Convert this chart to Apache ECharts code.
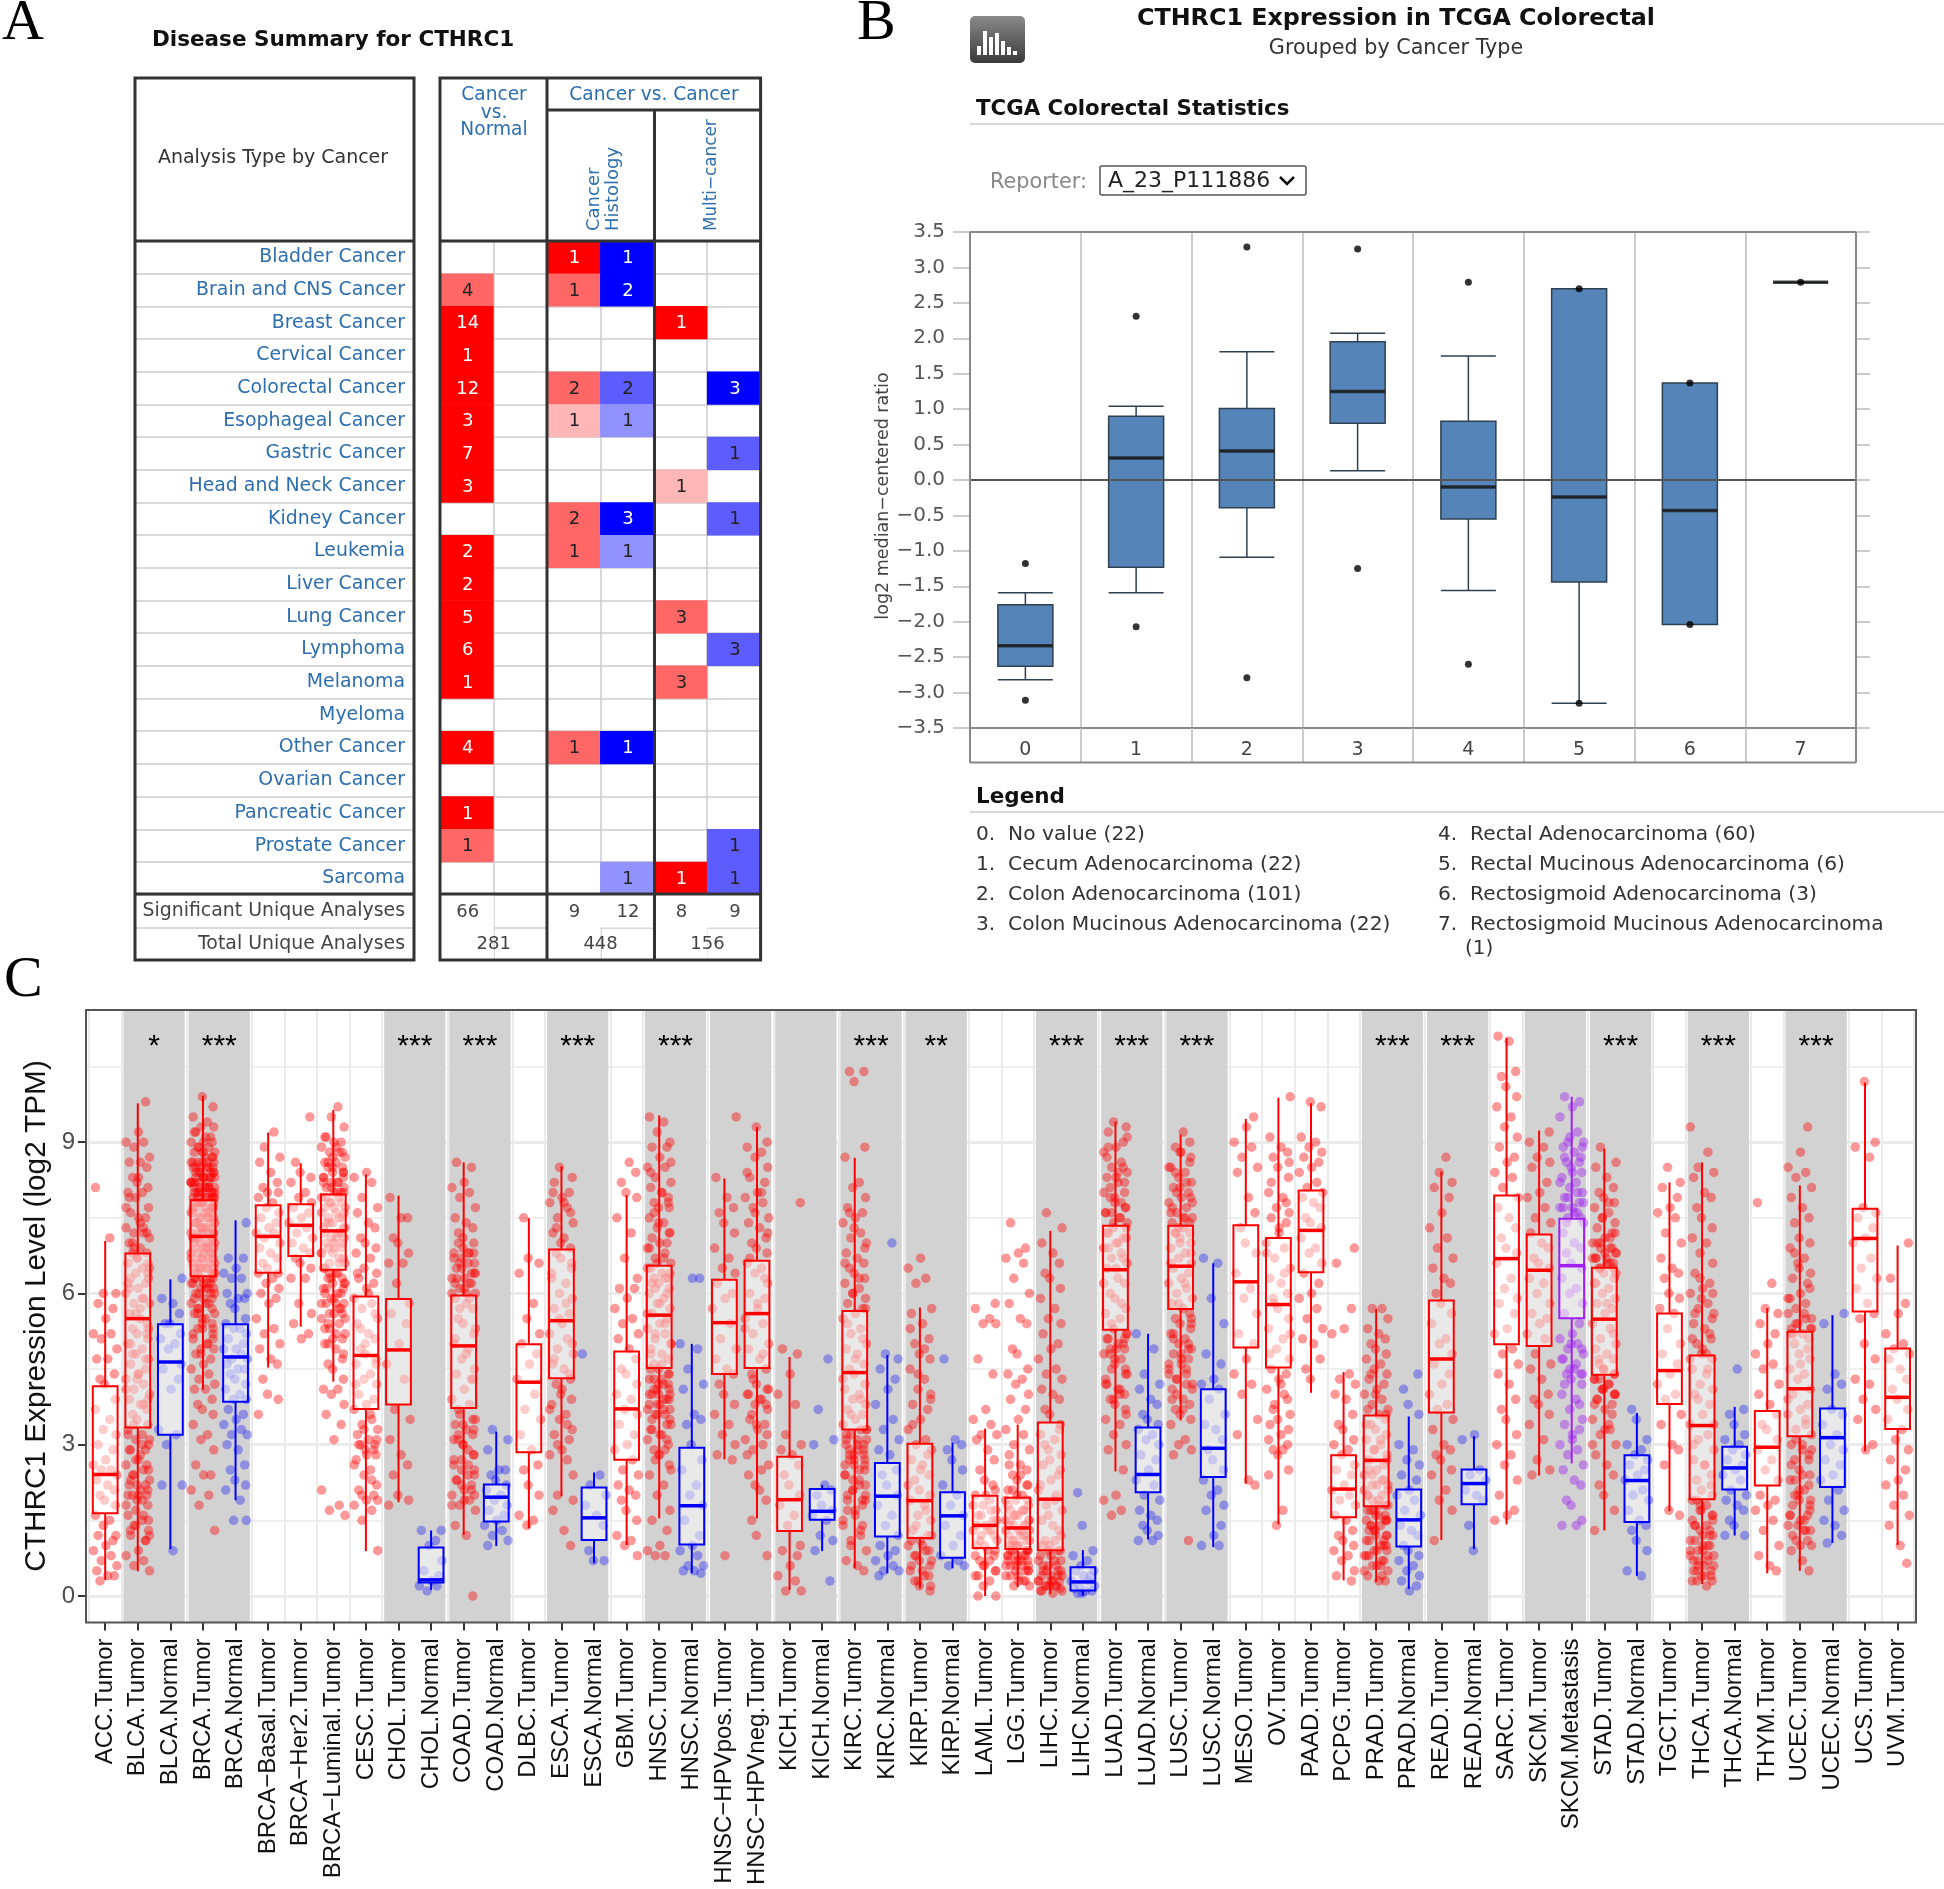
<!DOCTYPE html>
<html><head><meta charset="utf-8">
<style>html,body{margin:0;padding:0;background:#fff}#c{width:1944px;height:1889px}</style>
<script src="https://cdn.jsdelivr.net/npm/echarts@6/dist/echarts.min.js"></script>
</head><body><div id="c"></div>
<script>
// ---------- Panel A ----------
const cancerRows=['Bladder Cancer','Brain and CNS Cancer','Breast Cancer','Cervical Cancer','Colorectal Cancer','Esophageal Cancer','Gastric Cancer','Head and Neck Cancer','Kidney Cancer','Leukemia','Liver Cancer','Lung Cancer','Lymphoma','Melanoma','Myeloma','Other Cancer','Ovarian Cancer','Pancreatic Cancer','Prostate Cancer','Sarcoma','Significant Unique Analyses','Total Unique Analyses'];
const tableCols=['c0','c1','c2','c3','c4','c5'];
// [col,row,count,shade] shade: 0 white,1 red,2 mid red,3 pale red,4 blue,5 mid blue,6 pale blue
const heatCells=[[2,0,1,1],[3,0,1,4],[0,1,4,2],[2,1,1,2],[3,1,2,4],[0,2,14,1],[4,2,1,1],[0,3,1,1],[0,4,12,1],[2,4,2,2],[3,4,2,5],[5,4,3,4],[0,5,3,1],[2,5,1,3],[3,5,1,6],[0,6,7,1],[5,6,1,5],[0,7,3,1],[4,7,1,3],[2,8,2,2],[3,8,3,4],[5,8,1,5],[0,9,2,1],[2,9,1,2],[3,9,1,6],[0,10,2,1],[0,11,5,1],[4,11,3,2],[0,12,6,1],[5,12,3,5],[0,13,1,1],[4,13,3,2],[0,15,4,1],[2,15,1,2],[3,15,1,4],[0,17,1,1],[0,18,1,2],[5,18,1,5],[3,19,1,6],[4,19,1,1],[5,19,1,5]];
const significantRow=[66,'',9,12,8,9];
const totalRow=[281,'',448,'',156,''];
const shadeColors=['#ffffff','#ff0000','#ff6666','#ffb6b6','#0000ff','#5c5cff','#9292ff'];
// ---------- Panel B ----------
const tcgaCats=['0','1','2','3','4','5','6','7'];
const tcgaBoxes=[[-2.82,-2.63,-2.34,-1.76,-1.59],[-1.59,-1.23,.31,.9,1.04],[-1.09,-.39,.41,1.01,1.81],[.13,.8,1.25,1.95,2.07],[-1.56,-.55,-.1,.83,1.75],[-3.15,-1.44,-.24,2.7,2.7],[-2.04,-2.04,-.43,1.37,1.37],[2.79,2.79,2.79,2.79,2.79]];
const tcgaDots=[[0,-1.18],[0,-3.11],[1,2.31],[1,-2.07],[2,3.29],[2,-2.79],[3,3.26],[3,-1.25],[4,2.79],[4,-2.6],[5,2.7],[5,-3.15],[6,1.37],[6,-2.04],[7,2.79]];
const legendLeft=['0.  No value (22)','1.  Cecum Adenocarcinoma (22)','2.  Colon Adenocarcinoma (101)','3.  Colon Mucinous Adenocarcinoma (22)'];
const legendRight=['4.  Rectal Adenocarcinoma (60)','5.  Rectal Mucinous Adenocarcinoma (6)','6.  Rectosigmoid Adenocarcinoma (3)','7.  Rectosigmoid Mucinous Adenocarcinoma'];
// ---------- Panel C ----------
const timerCats=['ACC.Tumor','BLCA.Tumor','BLCA.Normal','BRCA.Tumor','BRCA.Normal','BRCA−Basal.Tumor','BRCA−Her2.Tumor','BRCA−Luminal.Tumor','CESC.Tumor','CHOL.Tumor','CHOL.Normal','COAD.Tumor','COAD.Normal','DLBC.Tumor','ESCA.Tumor','ESCA.Normal','GBM.Tumor','HNSC.Tumor','HNSC.Normal','HNSC−HPVpos.Tumor','HNSC−HPVneg.Tumor','KICH.Tumor','KICH.Normal','KIRC.Tumor','KIRC.Normal','KIRP.Tumor','KIRP.Normal','LAML.Tumor','LGG.Tumor','LIHC.Tumor','LIHC.Normal','LUAD.Tumor','LUAD.Normal','LUSC.Tumor','LUSC.Normal','MESO.Tumor','OV.Tumor','PAAD.Tumor','PCPG.Tumor','PRAD.Tumor','PRAD.Normal','READ.Tumor','READ.Normal','SARC.Tumor','SKCM.Tumor','SKCM.Metastasis','STAD.Tumor','STAD.Normal','TGCT.Tumor','THCA.Tumor','THCA.Normal','THYM.Tumor','UCEC.Tumor','UCEC.Normal','UCS.Tumor','UVM.Tumor'];
const whiskerHigh=[7.04,9.77,6.28,9.92,7.45,9.19,8.58,9.64,8.36,7.94,1.3,8.6,3.26,7.49,8.52,2.45,7.95,9.53,5.0,8.28,9.3,4.74,2.2,8.69,4.78,5.72,3.04,3.32,3.4,7.24,.91,9.41,5.2,9.15,6.6,9.46,9.88,9.77,4.44,5.69,3.56,8.42,3.17,11.07,9.23,9.9,8.87,3.63,8.2,8.6,3.75,5.71,8.14,5.57,10.18,6.95];
const quart3=[4.16,6.79,5.39,7.85,5.39,7.75,7.77,7.96,5.94,5.89,.96,5.96,2.21,4.99,6.87,2.15,4.85,6.55,2.94,6.27,6.65,2.76,2.12,5.65,2.64,3.02,2.06,1.99,1.95,3.44,.57,7.34,3.34,7.34,4.1,7.35,7.1,8.04,2.79,3.58,2.11,5.86,2.51,7.94,7.17,7.48,6.51,2.79,5.6,4.77,2.96,3.67,5.24,3.72,7.68,4.91];
const medians=[2.41,5.5,4.64,7.13,4.74,7.13,7.35,7.24,4.77,4.88,.32,4.96,1.96,4.24,5.46,1.55,3.71,5.57,1.79,5.42,5.6,1.91,1.68,4.43,1.98,1.89,1.59,1.4,1.35,1.92,.28,6.47,2.41,6.54,2.93,6.23,5.78,7.25,2.12,2.69,1.51,4.7,2.23,6.69,6.46,6.55,5.49,2.29,4.47,3.38,2.54,2.95,4.11,3.14,7.09,3.94];
const quart1=[1.64,3.34,3.2,6.34,3.85,6.41,6.74,6.47,3.71,3.8,.27,3.73,1.48,2.85,4.32,1.11,2.7,4.52,1.02,4.4,4.52,1.29,1.51,3.3,1.18,1.15,.76,.95,.93,.91,.11,5.28,2.06,5.69,2.36,4.93,4.53,6.42,1.56,1.78,.98,3.64,1.82,4.99,4.96,5.51,4.39,1.47,3.81,1.92,2.11,2.19,3.17,2.16,5.64,3.31];
const whiskerLow=[.32,.49,.93,4.09,1.9,4.53,5.34,4.25,.89,1.86,.12,1.21,.99,1.34,1.98,.65,1.01,1.54,.45,2.71,1.54,.12,.89,.55,.45,.15,.55,0,.18,.04,0,2.47,1.12,3.48,.97,2.23,1.42,4.03,.31,.28,.14,1.11,.93,1.42,2.39,2.63,1.3,.4,1.68,.24,1.2,.45,.5,1.05,2.87,1.01];
const sigBands=[[1,'*'],[3,'***'],[9,'***'],[11,'***'],[14,'***'],[17,'***'],[19,''],[21,''],[23,'***'],[25,'**'],[29,'***'],[31,'***'],[33,'***'],[39,'***'],[41,'***'],[44,''],[46,'***'],[49,'***'],[52,'***']];
const jitterOffsets=[-.30,.14,-.06,.33,-.22,.24,.02,-.36,.18,-.12,.36,-.26,.08,.28,-.16,-.02,.31];
const ptsACC=[8.1,7.1,6,6,5.8,5.7,5.5,5.2,5.2,5.1,4.9,4.7,4.7,4.4,4.3,4.2,3.9,3.7,3.5,3.3,3.2,3,2.9,2.7,2.6,2.5,2.5,2.4,2.3,2.2,2.1,2,1.9,1.8,1.6,1.5,1.4,1.2,1.2,1.1,1,.9,.8,.7,.6,.5,.4,.4,.3];
const ptsBLCAT=[9.8,9.2,9,9,8.9,8.7,8.6,8.6,8.5,8.3,8.2,8.1,8,8,7.9,7.7,7.6,7.5,7.5,7.3,7.2,7.2,7.1,7,6.9,6.8,6.8,6.7,6.6,6.6,6.5,6.4,6.3,6.3,6.2,6.1,6,5.9,5.8,5.8,5.6,5.5,5.4,5.3,5.2,5.1,5,4.9,4.8,4.7,4.6,4.5,4.4,4.3,4.2,4.1,4,3.9,3.8,3.7,3.6,3.5,3.4,3.3,3.2,3.1,3,2.9,2.9,2.7,2.6,2.5,2.4,2.3,2.2,2.1,2,2,1.9,1.8,1.6,1.5,1.4,1.3,1.2,1.1,.9,.8,.7,.6,.5];
const moreBLCAT=[7.9,7.4,7.2,7,6.7,6.4,6.2,5.9,5.6,5.3,5,4.7,4.4,4.1,3.8,3.4,3.1,2.9,2.8,2.6,2.4,2.2,2.1,2,1.9,1.7,1.5,1.3,1.1,8.3,7.7,7.3,6.9,6.5,6.1,5.7,5.2,4.8,4.3,3.9,3.2,3,2.7,2.5,2.3,2.2,2,1.8,1.6,1.4,1.2];
const ptsBLCAN=[6.3,5.9,5.8,5.6,5.4,5.4,5.2,5.1,5,4.9,4.6,4.5,4.3,4.1,3.3,3.2,3,2.2,2.2,.9];
const ptsBRCAT=[9.9,9.7,9.5,9.4,9.3,9.3,9.2,9.1,9,9,8.9,8.9,8.8,8.8,8.7,8.7,8.6,8.6,8.5,8.5,8.5,8.4,8.4,8.3,8.3,8.3,8.2,8.2,8.2,8.1,8.1,8.1,8,8,8,7.9,7.9,7.9,7.8,7.8,7.7,7.7,7.6,7.6,7.5,7.5,7.4,7.4,7.3,7.3,7.2,7.2,7.1,7.1,7,7,6.9,6.9,6.8,6.8,6.7,6.7,6.6,6.6,6.5,6.5,6.4,6.4,6.3,6.3,6.2,6.2,6.1,6.1,6,6,5.9,5.8,5.8,5.7,5.6,5.6,5.5,5.4,5.3,5.3,5.2,5.1,5,4.9,4.9,4.8,4.7,4.6,4.5,4.4,4.3,4.2,4.1,4.1,3.9,3.8,3.7,3.6,3.4,3.2,3.1,2.9,2.6,2.4,2.4,2.1,2,1.8,1.3];
const moreBRCAT=[9.2,9.1,9,8.9,8.8,8.7,8.6,8.6,8.5,8.4,8.4,8.3,8.3,8.2,8.1,8.1,8,8,7.9,7.9,7.8,7.8,7.7,7.7,7.6,7.5,7.5,7.4,7.4,7.3,7.2,7.2,7.1,7,7,6.9,6.8,6.8,6.7,6.7,6.6,6.5,6.5,6.4,6.4,6.3,6.2,6.2,6.1,6,6,5.9,5.8,5.7,5.6,5.5,5.3,5.2,5,4.8,8.6,8.5,8.4,8.3,8.2,8.1,8,7.9,7.8,7.7,7.6,7.4,7.3,7.2,7.1,6.9,6.7,6.5,6.3,6.2,8.8,8.6,8.5,8.4,8.3,8.2,8.1,8,7.9,7.8,7.7,7.6,7.5,7.3,7.2,7.1,7,6.9,6.8,6.6,6.5,6.4,6.3,6.1,5.9,5.7,5.4,5.1];
const ptsBRCAN=[7.4,6.7,6.7,6.5,6.4,6.3,6.3,6,6,5.9,5.9,5.8,5.7,5.5,5.4,5.3,5.3,5.2,5.1,5,4.9,4.9,4.8,4.7,4.7,4.6,4.5,4.5,4.4,4.3,4.2,4.1,4,3.9,3.9,3.7,3.6,3.5,3.4,3.3,3.2,3.2,3,2.9,2.6,2.5,2.3,2.2,2.1,1.9,1.5,1.5];
const ptsBasal=[9.2,8.9,8.7,8.6,8.4,8.2,8.1,8,8,7.9,7.8,7.7,7.6,7.5,7.4,7.3,7.2,7.2,7.1,7,6.9,6.8,6.7,6.6,6.5,6.4,6.4,6.3,6.2,6.1,6,5.9,5.8,5.5,5.3,5.2,5,4.9,4.7,4.6,4.3,4,3.9,3.6];
const ptsHer2=[9.5,8.6,8.4,8.3,8.2,8,7.9,7.8,7.7,7.6,7.5,7.4,7.3,7.2,7.1,7,6.9,6.8,6.7,6.6,6.5,6.3,6.3,5.8,5.6,5.4,5.2,5.1];
const ptsLuminal=[9.7,9.5,9.3,9.1,9,9,8.9,8.8,8.8,8.7,8.6,8.6,8.5,8.5,8.4,8.3,8.3,8.2,8.2,8.1,8.1,8,8,7.9,7.9,7.8,7.7,7.7,7.6,7.5,7.5,7.4,7.3,7.3,7.2,7.1,7.1,7,6.9,6.9,6.8,6.7,6.6,6.6,6.5,6.4,6.3,6.3,6.2,6.1,6.1,6,5.9,5.8,5.8,5.7,5.6,5.5,5.4,5.3,5.2,5,4.9,4.7,4.6,4.5,4.3,4.1,4.1,4,3.8,3.6,3.4,3.1,2.1,1.8,1.7,1.6];
const moreLuminal=[9.1,8.9,8.8,8.6,8.5,8.4,8.3,8.2,8.1,8,7.9,7.8,7.7,7.6,7.5,7.4,7.3,7.2,7.1,7,6.9,6.8,6.7,6.5,6.4,6.3,6.2,6.1,6,5.9,5.8,5.7,5.6,5.5,5.3,5.2,5.1,5,8.7,8.4,8.2,8,7.8,7.6,7.4,7.2,7,6.8,6.6,6.4,6.2,6,5.8,5.6,5.4,5.1,4.8];
const ptsCESC=[8.4,8.3,8.2,7.9,7.7,7.6,7.4,7.3,7.1,7,6.9,6.8,6.7,6.5,6.4,6.3,6.2,6.1,5.9,5.8,5.7,5.5,5.4,5.2,5.1,4.9,4.8,4.7,4.6,4.4,4.3,4.2,4,3.9,3.8,3.7,3.5,3.4,3.3,3.2,3.1,3,3,2.9,2.8,2.7,2.5,2.4,2.2,2.1,2,1.9,1.8,1.7,1.5,.9];
const moreCESC=[6.4,6,5.6,5.3,5,4.6,4.2,3.6,3.3,3.1,3,2.9,2.8,2.6,2.3,2,1.9];
const ptsCHOLT=[7.9,7.5,7.5,7.1,7,6.8,6.6,6.6,6.2,5.8,5.6,5.4,5,4.6,4.3,3.7,3.5,3.1,2.8,2.6,2.4,2,1.9,1.8];
const ptsCHOLN=[1.3,1.3,1.1,1,.7,.5,.4,.3,.2,.2,.1];
const ptsCOADT=[8.6,8.5,8.2,8.1,8,7.9,7.7,7.5,7.4,7.3,7.2,7.1,7,6.8,6.8,6.7,6.6,6.5,6.4,6.3,6.3,6.2,6.1,6,5.9,5.8,5.7,5.5,5.4,5.2,5,4.9,4.7,4.5,4.4,4.3,4.1,3.9,3.8,3.6,3.5,3.4,3.3,3.2,3.1,3,2.8,2.7,2.6,2.5,2.4,2.3,2.2,2.1,2,1.9,1.8,1.7,1.4,1.2,0];
const moreCOADT=[7,6.9,6.8,6.7,6.6,6.5,6.4,6.3,6.2,6.1,6,5.9,5.7,5.3,5.1,4.8,4.3,3.7,3.4,3.3,3.1,2.9,2.7,2.5,2.3,2.1,1.9,1.8,6.8,6.6,6.4,6.2,6,3.5,3.2,3,2.8,2.6,2.4,2.2,2];
const ptsCOADN=[3.3,3.1,2.9,2.5,2.5,2.4,2.3,2.2,2.1,2,1.9,1.8,1.7,1.6,1.5,1.4,1.3,1.2,1.1,1];
const ptsDLBC=[7.5,6.7,6.6,6.4,5.8,5.5,5.2,5,4.8,4.6,4.3,4,3.7,3.5,3.2,2.9,2.6,2.5,2.2,2,1.6,1.5,1.4];
const ptsESCAT=[8.5,8.3,8.2,8,7.9,7.8,7.7,7.5,7.4,7.2,7.1,6.9,6.8,6.7,6.5,6.4,6.2,6,5.9,5.7,5.6,5.4,5.2,5.1,4.9,4.8,4.6,4.5,4.3,4.2,4,3.9,3.8,3.6,3.5,3.3,3.2,3.1,2.9,2.8,2.7,2,1.9];
const moreESCAT=[8,7.8,7.6,7.3,7,6.6,6.3,5.8,5.5,5,4.7,4.4,4.1,3.7,3.4,3,2.4,1.7,1.3,1];
const ptsESCAN=[4.8,2.4,2.2,2,1.8,1.6,1.4,.9,.7,.7];
const ptsGBM=[8.6,8.4,8.2,8,7.9,7.5,7.2,6.7,6.3,6.1,6.1,5.9,5.7,5.5,5.4,5.2,5.1,4.9,4.7,4.5,4.4,4.2,4,3.9,3.7,3.6,3.4,3.2,3,2.9,2.7,2.5,2.4,2.2,2.1,2,1.9,1.7,1.5,1.2,1.1,1,.8];
const ptsHNSCT=[9.5,9.4,9.2,9,8.9,8.9,8.7,8.5,8.5,8.3,8.2,8.1,8,7.9,7.8,7.7,7.7,7.5,7.4,7.3,7.2,7.1,7,7,6.9,6.8,6.7,6.6,6.5,6.4,6.3,6.3,6.2,6.1,6,5.9,5.8,5.7,5.6,5.5,5.4,5.3,5.2,5.1,5,4.9,4.8,4.7,4.6,4.5,4.4,4.3,4.2,4.1,4,4,3.9,3.8,3.7,3.6,3.6,3.4,3.3,3.2,3,2.9,2.8,2.6,2.4,2.2,2,1.7,1.5,1.3,1,.9,.8,.8];
const moreHNSCT=[8.6,8.4,8,7.8,7.6,7.4,7.2,6.9,6.7,6.6,6.4,6.2,6,5.8,5.6,5.4,5.2,5,4.8,4.6,4.4,4.3,4.2,4.1,4,3.9,3.8,3.7,3.5,3.4,3.2,3.1,2.9,2.7,2.5,4.5,4.3,4.2,4.1,4,3.9,3.8,3.7,3.6,3.5,3.3,3.1,2.8,6.5,6.3,6.1];
const ptsHNSCN=[6.3,6.3,5,4.9,4.5,4.2,4.1,3.6,3.5,3.4,3,2.7,2.5,2.2,2,1.8,1.5,1.2,1,.9,.8,.6,.6,.5,.5,.45];
const ptsHPVpos=[9.5,8.3,7.9,7.7,7.6,7.4,7.2,6.9,6.7,6.5,6.4,6.2,6,5.9,5.7,5.4,5.1,4.9,4.7,4.5,4.4,4.2,4,3.8,3.6,3.4,3.2,3,2.8,2.7,.8];
const ptsHPVneg=[9.3,9,8.9,8.8,8.7,8.5,8.3,8.2,8,7.9,7.8,7.7,7.5,7.4,7.3,7.1,7,6.9,6.8,6.6,6.5,6.4,6.2,6,5.9,5.7,5.5,5.4,5.2,5,4.9,4.7,4.5,4.4,4.2,4.1,4,3.9,3.8,3.7,3.5,3.4,3.3,3.1,3,2.9,2.6,2.4,2.1,1.9,1.5,1.2,.8];
const moreHPVneg=[8.4,8,7.6,7.2,6.7,6.3,5.8,5.3,4.8,4.3,4.1,4,3.9,3.8,3.6,3.4,3.2,2.8,2.5,2.2];
const ptsKICHT=[7.8,4.9,4.8,4.4,4,3.8,3.2,3,2.9,2.8,2.6,2.4,2.2,2,1.8,1.6,1.4,1,.9,.8,.6,.4,.3,.1,.1];
const ptsKICHN=[4.7,3.7,3.1,3,2.2,2.1,2,1.8,1.7,1.6,1.5,1.2,1.1,.9,.3];
const ptsKIRCT=[10.4,10.4,10.2,8.9,8.7,8.2,8.1,7.9,7.7,7.6,7.5,7.4,7.2,7.1,7,6.8,6.7,6.6,6.5,6.4,6.3,6.2,6.1,6,5.9,5.8,5.7,5.6,5.5,5.3,5.2,5,4.9,4.8,4.6,4.5,4.4,4.2,4.1,4,3.9,3.8,3.7,3.6,3.5,3.4,3.3,3.2,3.1,3,2.9,2.8,2.7,2.6,2.5,2.4,2.2,2.1,2,1.9,1.8,1.6,1.4,1.3,1.1,.9,.7,.6,.5];
const moreKIRCT=[7.6,7.3,6.9,6.6,6.3,6,5.7,5.4,5.1,4.7,4.3,3.9,3.6,3.3,3.2,3.1,3,2.9,2.8,2.7,2.6,2.5,2.3,2.2,2,1.9,1.7,1.5,1.2,1,3.3,3.1,3,2.9,2.8,2.7,2.6,2.4,2.3,2.1,1.9,1.7,1.4];
const ptsKIRCN=[7,4.8,4.7,4.5,4.3,4.1,3.8,3.5,3.3,3.1,2.9,2.8,2.5,2.4,2.2,2,1.8,1.6,1.4,1.2,1,.9,.8,.7,.6,.5,.5,.4];
const ptsKIRPT=[6.7,6.5,6.3,6.2,5.7,5.6,5.4,5.1,5,4.8,4.7,4.5,4.3,4.1,4,3.8,3.7,3.5,3.3,3.1,3,2.9,2.7,2.6,2.4,2.3,2.1,2,1.9,1.8,1.6,1.5,1.3,1.2,1.1,1,.9,.8,.7,.6,.5,.4,.3,.2,.1];
const moreKIRPT=[5.3,4.9,4.4,3.9,3.4,2.8,2.5,2.2,1.7,1.4,1.2,1.1,1,.9,.8,.7,.6,.5,.4,.3,.2];
const ptsKIRPN=[4.7,3.1,3,2.9,2.7,2.5,2.2,2,1.8,1.6,1.4,1.2,1,.8,.7,.6,.6];
const ptsLAML=[5.8,5.7,5.5,5.4,5.4,4.7,4.4,3.7,3.5,3.4,3.2,3.2,3.1,2.9,2.7,2.5,2.3,2.1,2,1.9,1.8,1.7,1.6,1.5,1.4,1.3,1.3,1.2,1.1,1,.9,.8,.7,.6,.5,.4,.3,.2,0,0];
const moreLAML=[2.2,2,1.8,1.7,1.6,1.5,1.4,1.3,1.2,1.1,1,.9,.8,.7,.6,.5,.4];
const ptsLGG=[7.4,6.9,6.8,6.7,6.6,6.3,6,5.8,5.5,5.4,4.9,4.8,4.5,4.4,4.3,4.2,4,3.9,3.7,3.5,3.3,3.2,3,2.9,2.8,2.6,2.5,2.4,2.3,2.2,2.1,2,1.9,1.8,1.7,1.7,1.6,1.5,1.4,1.4,1.3,1.2,1.2,1.1,1,1,.9,.8,.8,.7,.6,.6,.5,.4,.4,.3,.2,.2];
const moreLGG=[2.6,2.4,2.2,2.1,2,1.9,1.8,1.7,1.6,1.5,1.5,1.4,1.3,1.3,1.2,1.1,1.1,1,1,.9,.9,.8,.7,.7,.6,.5,.5,.4,.3,.3,1.9,1.7,1.6,1.5,1.4,1.3,1.2,1.1,1,.9,.8,.7,.6,.5,.9,.8,.7,.6];
const ptsLIHCT=[7.6,7.3,7,6.8,6.6,6.4,6.3,6.1,5.9,5.7,5.5,5.4,5.2,5,4.9,4.7,4.5,4.4,4.3,4.1,4,3.9,3.7,3.6,3.4,3.2,3.1,2.9,2.8,2.6,2.4,2.3,2.1,2,1.8,1.7,1.5,1.4,1.3,1.1,1,.9,.8,.7,.6,.5,.5,.4,.3,.3,.2,.2,.1,.1,.05];
const moreLIHCT=[3.3,3,2.7,2.5,2.2,1.9,1.6,1.2,1,.9,.8,.7,.6,.5,.4,.4,.3,.3,.2,.2,.15,.1,1.1,.9,.7,.6,.5,.4,.3,.2];
const ptsLIHCN=[2.05,1.4,.9,.8,.7,.6,.5,.5,.4,.4,.3,.3,.2,.2,.15,.1,.1,.05,.05];
const ptsLUADT=[9.4,9.3,9.2,9,8.9,8.8,8.6,8.5,8.4,8.3,8.2,8,7.9,7.8,7.7,7.6,7.5,7.4,7.3,7.2,7.1,7,6.9,6.8,6.7,6.6,6.5,6.3,6.2,6,5.9,5.7,5.6,5.5,5.3,5.2,5.1,5,4.9,4.8,4.7,4.5,4.4,4.2,4.1,4,3.9,3.8,3.7,3.5,3.4,3.2,3,2.9,2.5,2,1.9,1.7,1.6];
const moreLUADT=[9.1,8.7,8.4,8.2,8.1,7.9,7.7,7.6,7.5,7.3,7.1,6.9,6.7,6.5,6.2,5.8,5.4,5.2,5.1,5,4.9,4.8,4.6,4.4,4.3,4.1,3.9,3.6,8.9,8.5,8.3,8,7.8,7.6,7.4,7.2,7,5.1,4.9,4.7,4.5,4.2,4];
const ptsLUADN=[5.2,4.9,4.4,4.2,4.1,3.9,3.8,3.6,3.5,3.4,3.3,3.2,3.1,3,2.8,2.7,2.5,2.3,2.2,2,1.9,1.7,1.6,1.5,1.4,1.3,1.2,1.1,1.1];
const ptsLUSCT=[9.2,9,8.9,8.8,8.7,8.5,8.4,8.3,8.2,8.1,8,7.9,7.8,7.7,7.6,7.5,7.4,7.3,7.2,7.2,7.1,7,6.9,6.8,6.7,6.6,6.5,6.4,6.3,6.2,6.1,6,5.9,5.8,5.7,5.6,5.5,5.4,5.3,5.2,5.1,5,4.9,4.8,4.7,4.6,4.5,4.4,4.3,4.2,4.1,3.9,3.8,3.7,3.6,3.5,3.4,3.1,3,2.9,2.8,1.1];
const moreLUSCT=[8.8,8.5,8.2,8,7.8,7.7,7.5,7.4,7.2,7,6.8,6.6,6.2,5.8,5.5,5.2,5,4.8,4.6,4.5,4.3,4.1,3.9,3.7,8.6,8.4,8.1,7.9,7.6,7.5,7.3,5.4,5.1,4.9,4.7,4.4,4.2,4];
const ptsLUSCN=[6.7,6.6,5.9,5.4,4.8,4.6,4.3,4.2,4.1,3.9,3.6,3.4,3.3,3.1,2.9,2.7,2.5,2.3,2.1,2,1.8,1.7,1.4,1.2,1,1];
const ptsMESO=[9.5,9.3,9,8.9,8.7,8.5,8.4,7.9,7.6,7.3,7,6.8,6.4,6.1,5.9,5.6,5.2,5,4.7,4.4,4.2,4,3.5,3.2,2.3,2.2];
const ptsOV=[9.9,9.1,8.9,8.8,8.7,8.5,8.3,8,7.9,7.7,7.6,7.5,7.4,7.2,7,6.9,6.7,6.5,6.3,6.2,6,5.9,5.7,5.5,5.3,5.1,4.9,4.7,4.5,4.4,4.3,4.1,4,3.8,3.6,3.4,3.2,3,2.9,2.8,2.5,2.4,1.7,1.4];
const moreOV=[8.6,8.2,7.8,7.3,6.8,6.4,5.8,5.2,4.8,4.2,3.9,3.7,3.5,3.3,3.1,2.9];
const ptsPAAD=[9.8,9.7,9.1,9,8.9,8.8,8.7,8.6,8.5,8.4,8.2,8.1,8,7.9,7.8,7.7,7.5,7.4,7.3,7.1,6.9,6.8,6.6,6.4,6.2,6,5.9,5.7,5.5,5.3,5.1,5,4.7,4.5,4.3];
const ptsPCPG=[6.9,6.6,5.7,5.3,5.2,4.4,4.3,4.2,4,3.9,3.6,3.4,3.3,3.1,3,2.9,2.8,2.6,2.5,2.4,2.2,2.1,2,1.9,1.8,1.6,1.5,1.3,1.2,1.1,1,.9,.8,.7,.5,.4,.3];
const ptsPRADT=[5.7,5.7,5.5,5.3,5.2,5.1,5,4.9,4.8,4.7,4.6,4.5,4.4,4.3,4.2,4.1,4,3.9,3.8,3.7,3.7,3.6,3.5,3.4,3.3,3.2,3.1,3,2.9,2.8,2.7,2.6,2.5,2.4,2.3,2.2,2.1,2,1.9,1.8,1.7,1.6,1.5,1.5,1.4,1.3,1.2,1.1,1,.9,.8,.7,.6,.5,.4,.3,.3];
const morePRADT=[4.4,4,3.6,3.4,3.1,2.9,2.7,2.5,2.3,2.2,2.1,2,1.9,1.8,1.7,1.6,1.5,1.4,1.3,1.2,1.1,1,.9,.9,.8,.7,.6,.5,.4,2.4,2.2,2,1.8,1.6,1.4,1.2,1,.8,.6,1.7,1.5,1.3,1.1];
const ptsPRADN=[4.4,4.1,3.8,3.6,3,2.9,2.7,2.6,2.4,2.3,2.1,2,1.9,1.7,1.6,1.4,1.3,1.2,1,.9,.8,.7,.6,.5,.4,.3,.2,.1];
const ptsREADT=[8.7,8.4,8.2,8.1,7.9,7.6,7.3,7.1,6.9,6.7,6.5,6.3,6.2,6,5.8,5.6,5.4,5.1,5,4.8,4.6,4.4,4.2,4,3.8,3.7,3.5,3.3,3,2.9,2.8,2.7,2.5,2.4,2.1,1.9,1.7,1.1];
const ptsREADN=[3.2,3.1,2.5,2.4,2.3,2.1,2,1.9,1.4,.9];
const ptsSARC=[11.1,11,10.4,10.3,10.1,9.9,9.7,9.5,9.3,9.1,8.9,8.7,8.6,8.4,8.3,8.1,7.9,7.7,7.5,7.3,7.1,6.9,6.8,6.6,6.3,6.1,5.9,5.8,5.6,5.3,5.2,4.9,4.8,4.6,4.4,4.2,3.9,3.7,3.5,3.2,3,2.8,2.6,2.3,2,1.7,1.6,1.5];
const ptsSKCMT=[9.2,9,8.9,8.7,8.6,8.5,8.2,8,7.9,7.7,7.5,7.4,7.2,7,6.9,6.7,6.6,6.5,6.3,6.2,6,5.8,5.6,5.5,5.4,5.2,5.1,4.8,4.6,4.5,4.3,4,3.9,3.8,3.6,3.4,3.1,2.7,2.5,2.4];
const ptsSKCMM=[9.9,9.8,9.7,9.5,9.2,9,9,8.9,8.8,8.7,8.6,8.5,8.4,8.3,8.2,8.1,8,7.9,7.8,7.7,7.7,7.6,7.5,7.4,7.2,7,6.9,6.8,6.6,6.5,6.3,6.1,6,5.8,5.6,5.4,5.2,5.1,5,4.9,4.8,4.7,4.5,4.4,4.4,4.3,4.2,4,3.9,3.7,3.5,3.4,3.3,3.1,3,2.9,2.8,2.6,2.5,2.3,2.2,1.9,1.8,1.5,1.4,1.4];
const moreSKCMM=[9.1,8.9,8.7,8.6,8.4,8.2,8,7.9,7.8,7.7,7.6,7.5,7.4,5,4.9,4.7,4.6,4.5,4.4,4.2,3.8,3.2];
const ptsSTADT=[8.9,8.6,8.5,8.3,8.1,8,7.9,7.8,7.7,7.6,7.5,7.4,7.3,7.2,7.1,7,6.9,6.9,6.8,6.7,6.7,6.6,6.5,6.4,6.3,6.2,6.1,6,5.9,5.8,5.7,5.6,5.4,5.3,5.1,5,4.9,4.8,4.7,4.6,4.5,4.4,4.3,4.2,4.1,4,3.9,3.8,3.7,3.5,3.3,3.2,3,2.8,2.6,2.4,2.2,2,1.7,1.3];
const moreSTADT=[7.8,7.5,7.2,7,6.9,6.8,6.7,6.6,6.5,6.4,6.2,5.8,5.2,4.7,4.5,4.4,4.3,4.2,4.1,4,3.9,3.6,3.3,3,7.1,7,6.8,6.7,6.6,6.5,4.3,4.1,4,3.8,3.4];
const ptsSTADN=[3.7,3.5,3.1,3,2.9,2.8,2.7,2.6,2.5,2.4,2.3,2.1,2,1.9,1.7,1.5,1.4,1.3,1.1,.9,.5,.4];
const ptsTGCT=[8.5,8.2,8.1,7.9,7.7,7.6,7.5,7.2,7,6.7,6.5,6.4,6.3,6,5.9,5.7,5.6,5.3,5,4.8,4.6,4.4,4.2,4,3.9,3.6,3.4,3,2.9,2.6,1.7,1.6];
const ptsTHCAT=[9.3,8.8,8.5,8.4,8.3,8,7.9,7.7,7.5,7.3,7.1,7,6.8,6.6,6.4,6.2,6.1,6,5.8,5.7,5.6,5.4,5.3,5.1,5,4.8,4.7,4.5,4.4,4.2,4.1,4,3.8,3.6,3.4,3.2,3.1,2.9,2.7,2.6,2.4,2.3,2.1,2,1.9,1.8,1.7,1.5,1.4,1.3,1.2,1.1,1,.9,.8,.7,.6,.5,.5,.4,.3,.3,.2];
const moreTHCAT=[6.3,6,5.6,5.2,4.9,4.7,4.5,3.9,3.4,3,2.6,2.2,1.9,1.7,1.6,1.5,1.4,1.3,1.2,1.1,1,.9,.8,.8,.7,.6,.5,.4,.4,.3,5.9,5.5,5.1,4.8,1.8,1.6,1.4,1.2,1,.9,.7,.6];
const ptsTHCAN=[4.5,3.7,3.6,3.4,3.2,3.1,3,2.9,2.8,2.7,2.6,2.5,2.4,2.3,2.1,2,1.9,1.8,1.7,1.5,1.4,1.2,1.2];
const ptsTHYM=[7.8,6.2,5.7,5.6,5.4,5.2,5,4.8,4.6,4.5,4.2,4,3.8,3.6,3.4,3.3,3.1,2.9,2.7,2.5,2.3,2,1.9,1.8,1.7,1.5,1.3,1,.8,.6,.5];
const ptsUCECT=[9.3,8.8,8.5,8.4,8.3,8.1,7.9,7.7,7.5,7.4,7.1,7,6.9,6.7,6.6,6.4,6.3,6.2,6,5.9,5.8,5.7,5.5,5.3,5.2,5.1,5,4.8,4.7,4.5,4.4,4.3,4.1,4,3.8,3.7,3.6,3.5,3.3,3.2,3,2.9,2.8,2.7,2.5,2.4,2.3,2.1,2,1.9,1.8,1.6,1.5,1.4,1.3,1.1,1,.9,.7,.5];
const moreUCECT=[6.8,6.5,6.1,5.9,5.6,5.4,5.3,5.2,4.9,4.6,3.9,3.4,3.1,2.9,2.6,2.4,2.2,2,1.9,1.7,1.6,1.5,1.4,1.3,1.2,1.1,1,5.6,5.5,5.4,5.3,5.2,3,2.7,2.3,2.1,1.8,1.6,1.3];
const ptsUCECN=[5.6,5.4,4.4,4.2,4.1,3.7,3.6,3.4,3.2,3,2.9,2.7,2.6,2.4,2.3,2.1,1.9,1.7,1.5,1.4,1.2,1.05];
const ptsUCS=[10.2,9,8.9,8.7,7.7,7.6,7.5,7.3,7.1,7,6.7,6.5,6.3,6.1,5.8,5.6,5.5,5,4.7,4.3,4.2,3.9,3.7,3.5,3,2.9];
const ptsUVM=[7,6.3,5.8,5.6,5.2,5,4.9,4.8,4.7,4.5,4.3,4.1,3.9,3.7,3.5,3.3,3.1,2.9,2.7,2.5,2.3,2.2,2,1.8,1.6,1.4,1,.65];
const pointLists=[ptsACC,ptsBLCAT.concat(moreBLCAT),ptsBLCAN,ptsBRCAT.concat(moreBRCAT),ptsBRCAN,ptsBasal,ptsHer2,ptsLuminal.concat(moreLuminal),ptsCESC.concat(moreCESC),ptsCHOLT,ptsCHOLN,ptsCOADT.concat(moreCOADT),ptsCOADN,ptsDLBC,ptsESCAT.concat(moreESCAT),ptsESCAN,ptsGBM,ptsHNSCT.concat(moreHNSCT),ptsHNSCN,ptsHPVpos,ptsHPVneg.concat(moreHPVneg),ptsKICHT,ptsKICHN,ptsKIRCT.concat(moreKIRCT),ptsKIRCN,ptsKIRPT.concat(moreKIRPT),ptsKIRPN,ptsLAML.concat(moreLAML),ptsLGG.concat(moreLGG),ptsLIHCT.concat(moreLIHCT),ptsLIHCN,ptsLUADT.concat(moreLUADT),ptsLUADN,ptsLUSCT.concat(moreLUSCT),ptsLUSCN,ptsMESO,ptsOV.concat(moreOV),ptsPAAD,ptsPCPG,ptsPRADT.concat(morePRADT),ptsPRADN,ptsREADT,ptsREADN,ptsSARC,ptsSKCMT,ptsSKCMM.concat(moreSKCMM),ptsSTADT.concat(moreSTADT),ptsSTADN,ptsTGCT,ptsTHCAT.concat(moreTHCAT),ptsTHCAN,ptsTHYM,ptsUCECT.concat(moreUCECT),ptsUCECN,ptsUCS,ptsUVM];

// ---------- assembling ----------
const DJ='"DejaVu Sans"', LS='"Liberation Sans"', SERIF='"Liberation Serif"';
const BLUE_TXT='#2d6eae', DARK='#333';
const colorOf=n=>n.endsWith('Normal')?'#0000ff':n.endsWith('Metastasis')?'#a020f0':'#ff0000';
const yMinC=-0.525,yMaxC=11.62;

const heatData=heatCells.map(c=>({value:c,label:{color:c[3]===1||c[3]===4?'#fff':'#222',offset:[1,1]}}));
significantRow.forEach((v,i)=>heatData.push({value:[i,20,v,0],label:{color:'#444',offset:[1,1]}}));
totalRow.forEach((v,i)=>heatData.push({value:[i,21,v,0],label:{color:'#444',offset:[27,1]}}));

const ptGroups={red:[],blue:[],purple:[]};
pointLists.forEach((list,i)=>{
  const c=colorOf(timerCats[i]);
  const g=c==='#0000ff'?ptGroups.blue:c==='#a020f0'?ptGroups.purple:ptGroups.red;
  list.forEach((y,k)=>g.push([i+jitterOffsets[(k+i*5)%jitterOffsets.length],y]));
});

function renderBox(params,api){
  const i=api.value(0),x=api.coord([i,0])[0],w=api.size([1,0])[0]*0.76;
  const c=colorOf(timerCats[i]);
  const Y=v=>api.coord([i,api.value(v)])[1];
  const ln={stroke:c,lineWidth:2,fill:null};
  return {type:'group',children:[
    {type:'line',shape:{x1:x,y1:Y(1),x2:x,y2:Y(2)},style:ln},
    {type:'line',shape:{x1:x,y1:Y(4),x2:x,y2:Y(5)},style:ln},
    {type:'rect',shape:{x:x-w/2,y:Y(4),width:w,height:Y(2)-Y(4)},style:{fill:'rgba(255,255,255,0.5)',stroke:c,lineWidth:2}},
    {type:'line',shape:{x1:x-w/2,y1:Y(3),x2:x+w/2,y2:Y(3)},style:{stroke:c,lineWidth:3.5}}
  ]};
}
function renderBand(params,api){
  const i=api.value(0),b=api.size([1,0])[0],cs=params.coordSys;
  const x0=api.coord([i,0])[0]-b*0.44,x1=api.coord([i+1,0])[0]+b*0.44;
  const t=sigBands[params.dataIndex][1];
  return {type:'group',children:[
    {type:'rect',shape:{x:x0,y:cs.y,width:x1-x0,height:cs.height},style:{fill:'#d2d2d2'}},
    {type:'text',style:{x:(x0+x1)/2,y:cs.y+37,text:t,fill:'#000',font:'30px '+LS,textAlign:'center',textVerticalAlign:'middle'}}
  ]};
}

// static page furniture
const T=(x,y,text,font,fill,align,extra)=>Object.assign({type:'text',z:50,x,y,style:{text,font,fill:fill||DARK,textAlign:align||'left',textVerticalAlign:'middle'}},extra||{});
const L=(x1,y1,x2,y2,stroke,w)=>({type:'line',z:50,shape:{x1,y1,x2,y2},style:{stroke:stroke||'#333',lineWidth:w||3}});
const gfx=[
 T(2,24,'A','58px '+SERIF,'#000'),T(857,24,'B','58px '+SERIF,'#000'),T(4,981,'C','58px '+SERIF,'#000'),
 T(152,40,'Disease Summary for CTHRC1','bold 21.5px '+DJ,'#111'),
 {type:'rect',z:50,shape:{x:135,y:78,width:279,height:882},style:{fill:'none',stroke:'#333',lineWidth:3}},
 {type:'rect',z:50,shape:{x:440,y:78,width:320.6,height:882},style:{fill:'none',stroke:'#333',lineWidth:3}},
 L(135,241,414,241),L(135,894,414,894),L(440,241,760.6,241),L(440,894,760.6,894),L(547,78,547,960),L(654.5,110,654.5,960),L(547,110,760.6,110),
 T(273,158,'Analysis Type by Cancer','19px '+DJ,'#333','center'),
 T(494,95,'Cancer','18.6px '+DJ,BLUE_TXT,'center'),T(494,113,'vs.','18.6px '+DJ,BLUE_TXT,'center'),T(494,130,'Normal','18.6px '+DJ,BLUE_TXT,'center'),
 T(654,95,'Cancer vs. Cancer','18.6px '+DJ,BLUE_TXT,'center'),
 T(594,231,'Cancer','18px '+DJ,BLUE_TXT,'left',{rotation:Math.PI/2}),T(613,231,'Histology','18px '+DJ,BLUE_TXT,'left',{rotation:Math.PI/2}),
 T(712,231,'Multi−cancer','16.8px '+DJ,BLUE_TXT,'left',{rotation:Math.PI/2}),
 // Panel B furniture
 {type:'rect',z:50,shape:{x:970,y:16,width:55,height:47,r:5},style:{fill:{type:'linear',x:0,y:0,x2:0,y2:1,colorStops:[{offset:0,color:'#8a8a8a'},{offset:1,color:'#3a3a3a'}]}}},
 {type:'rect',z:51,shape:{x:977,y:46,width:4,height:9},style:{fill:'#fff'}},{type:'rect',z:51,shape:{x:983,y:31,width:4,height:24},style:{fill:'#fff'}},{type:'rect',z:51,shape:{x:989,y:37,width:4,height:18},style:{fill:'#fff'}},{type:'rect',z:51,shape:{x:995,y:33,width:4,height:22},style:{fill:'#fff'}},{type:'rect',z:51,shape:{x:1001,y:41,width:4,height:14},style:{fill:'#fff'}},{type:'rect',z:51,shape:{x:1007,y:47,width:4,height:8},style:{fill:'#fff'}},{type:'rect',z:51,shape:{x:1013,y:51,width:4,height:4},style:{fill:'#fff'}},
 T(1396,19,'CTHRC1 Expression in TCGA Colorectal','bold 23.8px '+DJ,'#111','center'),
 T(1396,49,'Grouped by Cancer Type','20.7px '+DJ,'#333','center'),
 T(976,109,'TCGA Colorectal Statistics','bold 21.3px '+DJ,'#111'),L(970,124,1944,124,'#ccc',1.5),
 T(990,183,'Reporter:','20.8px '+DJ,'#888'),
 {type:'rect',z:50,shape:{x:1100,y:166,width:206,height:29,r:2},style:{fill:'#fff',stroke:'#555',lineWidth:1.5}},
 T(1108,181,'A_23_P111886','22px '+DJ,'#222'),
 {type:'polyline',z:50,shape:{points:[[1280,177],[1287,184],[1294,177]]},style:{stroke:'#111',lineWidth:2.5,fill:'none'}},
 L(970,232,970,762.6,'#888',2),L(1856,232,1856,762.6,'#888',2),L(970,762.6,1856,762.6,'#888',2),L(970,232,1856,232,'#888',2),
 T(976,797,'Legend','bold 21.5px '+DJ,'#111'),L(970,812,1944,812,'#ccc',1.5),
 T(1465,949,'(1)','20px '+DJ,'#333'),
 T(883,496,'log2 median−centered ratio','17.5px '+DJ,'#444','center',{rotation:Math.PI/2}),
 // Panel C frame
 {type:'rect',z:60,shape:{x:86,y:1010,width:1830,height:612.5},style:{fill:'none',stroke:'#555',lineWidth:2}},
 T(37,1316,'CTHRC1 Expression Level (log2 TPM)','29.8px '+LS,'#111','center',{rotation:Math.PI/2})
];
[835,865,895,925].forEach((y,i)=>{gfx.push(T(976,y,legendLeft[i],'20.2px '+DJ,'#333'));gfx.push(T(1438,y,legendRight[i],'20.2px '+DJ,'#333'));});

const tickFmt=v=>v.toFixed(1).replace('-','−');
const option={
 animation:false,backgroundColor:'#fff',
 grid:[
  {left:135,top:241,width:279,height:719},
  {left:440,top:241,width:320.6,height:719},
  {left:970,top:232,width:886,height:496},
  {left:86,top:1010,width:1830,height:612.5},
  {left:88.9,top:1010,width:1825,height:612.5}
 ],
 visualMap:[{show:false,type:'piecewise',seriesIndex:0,dimension:3,pieces:shadeColors.map((c,i)=>({value:i,color:c}))}],
 xAxis:[
  {gridIndex:0,type:'value',show:false},
  {gridIndex:1,type:'category',data:tableCols,axisLine:{show:false},axisTick:{show:false},axisLabel:{show:false},splitLine:{show:true,lineStyle:{color:'#ccc',width:1.5}}},
  {gridIndex:2,type:'category',data:tcgaCats,position:'bottom',axisLine:{show:true,onZero:false,lineStyle:{color:'#888',width:2}},axisTick:{show:true,length:34.6,lineStyle:{color:'#bbb',width:1.5}},axisLabel:{color:'#444',fontFamily:DJ,fontSize:19,margin:13},splitLine:{show:true,lineStyle:{color:'#bbb',width:1.5}}},
  {gridIndex:3,type:'value',show:false,min:0,max:1},
  {gridIndex:4,type:'category',data:timerCats,position:'bottom',axisLine:{show:false,onZero:false},axisTick:{show:true,alignWithLabel:true,length:8,lineStyle:{color:'#333',width:2}},axisLabel:{interval:0,rotate:90,color:'#111',fontFamily:LS,fontSize:24,margin:16},splitLine:{show:true,interval:0,lineStyle:{color:'#ebebeb',width:2}}},
  {gridIndex:4,type:'value',show:false,min:-0.5,max:55.5}
 ],
 yAxis:[
  {gridIndex:0,type:'category',inverse:true,data:cancerRows,position:'right',axisLine:{show:false},axisTick:{show:false},axisLabel:{inside:true,interval:0,fontFamily:DJ,fontSize:18.9,margin:9,padding:[3,0,0,0],color:(v,i)=>i>=20?'#444':BLUE_TXT},splitLine:{show:true,interval:0,lineStyle:{color:'#ccc',width:1.5}}},
  {gridIndex:1,type:'category',inverse:true,data:cancerRows,axisLine:{show:false},axisTick:{show:false},axisLabel:{show:false},splitLine:{show:true,interval:0,lineStyle:{color:'#ccc',width:1.5}}},
  {gridIndex:2,type:'value',min:-3.5,max:3.5,interval:.5,axisLine:{show:false},axisTick:{show:true,length:17,lineStyle:{color:'#bbb',width:1.5}},axisLabel:{color:'#555',fontFamily:DJ,fontSize:20,margin:25,padding:[2,0,0,0],formatter:tickFmt},splitLine:{show:false}},
  {gridIndex:2,type:'value',position:'right',min:-3.5,max:3.5,interval:.5,axisLine:{show:false},axisTick:{show:true,length:14,lineStyle:{color:'#bbb',width:1.5}},axisLabel:{show:false},splitLine:{show:false}},
  {gridIndex:3,type:'value',min:yMinC,max:yMaxC,axisLine:{show:false},axisTick:{show:true,length:8,lineStyle:{color:'#333',width:2},customValues:[0,3,6,9]},axisLabel:{customValues:[0,3,6,9],color:'#4d4d4d',fontFamily:LS,fontSize:24,margin:11},splitLine:{show:true,lineStyle:{color:'#ebebeb',width:3}}},
  {gridIndex:3,type:'value',position:'right',min:yMinC,max:yMaxC,axisLine:{show:false},axisTick:{show:false,customValues:[1.5,4.5,7.5,10.5]},axisLabel:{show:false},splitLine:{show:true,lineStyle:{color:'#efefef',width:2}}},
  {gridIndex:4,type:'value',show:false,min:yMinC,max:yMaxC,splitLine:{show:false}}
 ],
 graphic:{elements:gfx},
 series:[
  {type:'heatmap',xAxisIndex:1,yAxisIndex:1,data:heatData,label:{show:true,fontFamily:DJ,fontSize:18,formatter:p=>p.value[2]},emphasis:{disabled:true}},
  {type:'boxplot',xAxisIndex:2,yAxisIndex:2,data:tcgaBoxes,boxWidth:[55,55],z:3,itemStyle:{color:'#5585b8',borderColor:'#2f4050',borderWidth:1.5},emphasis:{disabled:true},
   markLine:{silent:true,symbol:'none',label:{show:false},lineStyle:{color:'#555',width:2,type:'solid'},data:[{yAxis:0}]}},
  {type:'scatter',xAxisIndex:2,yAxisIndex:2,z:5,symbol:'rect',symbolSize:[55,3.5],itemStyle:{color:'#1a1a1a'},data:tcgaBoxes.map((b,i)=>[i,b[2]])},
  {type:'scatter',xAxisIndex:2,yAxisIndex:2,z:6,symbolSize:7,itemStyle:{color:'#000'},data:tcgaDots},
  {type:'custom',xAxisIndex:4,yAxisIndex:6,z:1,renderItem:renderBand,silent:true,data:sigBands.map(b=>[b[0]]),encode:{x:0}},
  {type:'scatter',name:'Tumor',xAxisIndex:5,yAxisIndex:6,z:2,symbolSize:9.5,silent:true,itemStyle:{color:'#ff0000',opacity:.4},data:ptGroups.red},
  {type:'scatter',name:'Normal',xAxisIndex:5,yAxisIndex:6,z:2,symbolSize:9.5,silent:true,itemStyle:{color:'#0000ff',opacity:.32},data:ptGroups.blue},
  {type:'scatter',name:'Metastasis',xAxisIndex:5,yAxisIndex:6,z:2,symbolSize:9.5,silent:true,itemStyle:{color:'#a020f0',opacity:.42},data:ptGroups.purple},
  {type:'custom',xAxisIndex:4,yAxisIndex:6,z:3,renderItem:renderBox,silent:true,encode:{x:0,y:[1,2,3,4,5]},data:timerCats.map((c,i)=>[i,whiskerLow[i],quart1[i],medians[i],quart3[i],whiskerHigh[i]])}
 ]
};
echarts.init(document.getElementById('c')).setOption(option);
</script></body></html>
